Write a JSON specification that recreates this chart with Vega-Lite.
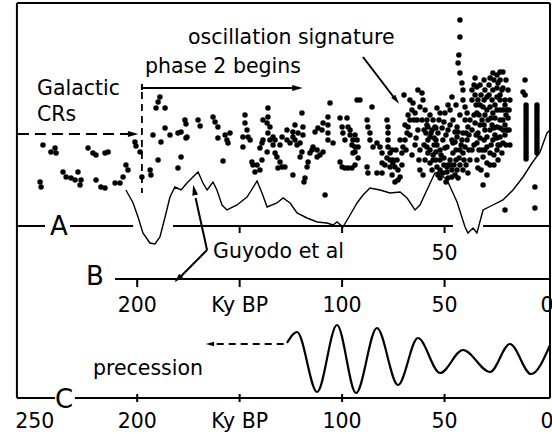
{
  "$schema": "https://vega.github.io/schema/vega-lite/v6.json",
  "width": 552,
  "height": 434,
  "padding": 0,
  "autosize": {"type": "none"},
  "background": "white",
  "config": {"view": {"stroke": null}, "text": {"font": "DejaVu Sans", "color": "black"}},
  "datasets": {
    "solid": [
      {"k": 258.7, "k2": -1.46, "y": 3, "y2": 3},
      {"k": 258.7, "k2": 258.7, "y": 3, "y2": 398},
      {"k": -1.46, "k2": -1.46, "y": 3, "y2": 398},
      {"k": 258.7, "k2": 245.0, "y": 226, "y2": 226},
      {"k": 232.8, "k2": 202.0, "y": 226, "y2": 226},
      {"k": 182.5, "k2": 45.9, "y": 226, "y2": 226},
      {"k": 31.2, "k2": -1.46, "y": 226, "y2": 226},
      {"k": 210.8, "k2": -1.46, "y": 279, "y2": 279},
      {"k": 258.7, "k2": 240.1, "y": 398, "y2": 398},
      {"k": 230.4, "k2": -1.46, "y": 398, "y2": 398},
      {"k": 150, "k2": 150, "y": 226, "y2": 233},
      {"k": 100, "k2": 100, "y": 226, "y2": 233},
      {"k": 50, "k2": 50, "y": 226, "y2": 233},
      {"k": 200, "k2": 200, "y": 279, "y2": 287},
      {"k": 150, "k2": 150, "y": 279, "y2": 287},
      {"k": 100, "k2": 100, "y": 279, "y2": 287},
      {"k": 50, "k2": 50, "y": 279, "y2": 287},
      {"k": 200, "k2": 200, "y": 394, "y2": 402},
      {"k": 150, "k2": 150, "y": 394, "y2": 402},
      {"k": 100, "k2": 100, "y": 394, "y2": 402},
      {"k": 50, "k2": 50, "y": 394, "y2": 402},
      {"k": 197.7, "k2": 123.0, "y": 88, "y2": 88},
      {"k": 197.7, "k2": 197.7, "y": 84, "y2": 90},
      {"k": 89.8, "k2": 74.5, "y": 57, "y2": 98},
      {"k": 165.9, "k2": 171.5, "y": 250, "y2": 198},
      {"k": 165.9, "k2": 179.0, "y": 250, "y2": 277}
    ],
    "dashed": [
      {"k": 197.7, "k2": 197.7, "y": 92, "y2": 193},
      {"k": 128.5, "k2": 162.0, "y": 344, "y2": 344}
    ],
    "dashdot": [
      {"k": 258.2, "k2": 203.5, "y": 134, "y2": 134}
    ],
    "headRight": [{"k": 121.8, "y": 88}, {"k": 202.0, "y": 134}],
    "headLeft": [{"k": 164.5, "y": 344}],
    "headOsc": [{"k": 73.6, "y": 100}],
    "headUp": [{"k": 172.2, "y": 190}],
    "headDown": [{"k": 180.2, "y": 279}],
    "guyodo": [
      {"k": 205.5, "y": 190}, {"k": 202.0, "y": 203}, {"k": 199.6, "y": 217}, {"k": 197.2, "y": 233},
      {"k": 193.8, "y": 243}, {"k": 191.3, "y": 244}, {"k": 188.9, "y": 237}, {"k": 186.4, "y": 217},
      {"k": 184.0, "y": 197}, {"k": 181.6, "y": 187}, {"k": 178.6, "y": 190}, {"k": 175.7, "y": 183},
      {"k": 172.8, "y": 177}, {"k": 170.3, "y": 172}, {"k": 167.9, "y": 183}, {"k": 165.9, "y": 190},
      {"k": 163.0, "y": 182}, {"k": 161.1, "y": 190}, {"k": 158.6, "y": 205}, {"k": 156.2, "y": 210},
      {"k": 151.3, "y": 205}, {"k": 146.4, "y": 197}, {"k": 141.5, "y": 181}, {"k": 139.1, "y": 193},
      {"k": 136.6, "y": 207}, {"k": 131.8, "y": 203}, {"k": 128.8, "y": 198}, {"k": 125.4, "y": 203},
      {"k": 122.0, "y": 213}, {"k": 117.1, "y": 218}, {"k": 112.2, "y": 222}, {"k": 107.4, "y": 223},
      {"k": 104.4, "y": 225}, {"k": 102.5, "y": 222}, {"k": 99.6, "y": 227}, {"k": 96.1, "y": 215},
      {"k": 92.7, "y": 203}, {"k": 89.8, "y": 195}, {"k": 86.4, "y": 188}, {"k": 81.5, "y": 190},
      {"k": 76.6, "y": 193}, {"k": 71.7, "y": 192}, {"k": 68.3, "y": 198}, {"k": 64.4, "y": 210},
      {"k": 62.0, "y": 205}, {"k": 58.6, "y": 190}, {"k": 54.7, "y": 173}, {"k": 53.2, "y": 172},
      {"k": 48.8, "y": 180}, {"k": 43.9, "y": 202}, {"k": 40.0, "y": 227}, {"k": 38.6, "y": 233},
      {"k": 36.1, "y": 228}, {"k": 34.2, "y": 233}, {"k": 31.2, "y": 210}, {"k": 26.4, "y": 205},
      {"k": 21.5, "y": 200}, {"k": 16.6, "y": 190}, {"k": 11.7, "y": 177}, {"k": 7.3, "y": 163},
      {"k": 3.4, "y": 152}, {"k": 0.0, "y": 133}, {"k": -1.5, "y": 130}
    ],
    "precession": [
      {"k": 126.9, "y": 343}, {"k": 122.0, "y": 332}, {"k": 112.2, "y": 392}, {"k": 102.5, "y": 325},
      {"k": 93.2, "y": 393}, {"k": 83.0, "y": 328}, {"k": 72.7, "y": 385}, {"k": 63.0, "y": 338},
      {"k": 52.2, "y": 373}, {"k": 41.0, "y": 350}, {"k": 27.8, "y": 372}, {"k": 18.1, "y": 344},
      {"k": 7.8, "y": 374}, {"k": -1.5, "y": 345}
    ],
    "dots": [
      {"k":246.0,"y":145},{"k":242.1,"y":152},{"k":239.6,"y":153},{"k":240.1,"y":148},{"k":224.0,"y":148},{"k":221.6,"y":153},{"k":220.1,"y":155},{"k":215.7,"y":153},{"k":214.2,"y":152},{"k":247.4,"y":182},{"k":246.9,"y":187},{"k":236.2,"y":172},{"k":234.7,"y":177},{"k":232.3,"y":178},{"k":230.3,"y":180},{"k":228.9,"y":172},{"k":227.4,"y":180},{"k":227.9,"y":185},{"k":220.1,"y":180},{"k":217.7,"y":187},{"k":215.7,"y":188},{"k":210.8,"y":183},{"k":208.4,"y":183},{"k":206.9,"y":177},{"k":205.5,"y":165},{"k":204.5,"y":170},{"k":201.1,"y":142},{"k":200.6,"y":146},{"k":198.6,"y":152},{"k":197.7,"y":177},{"k":193.7,"y":170},{"k":193.3,"y":175},{"k":192.3,"y":135},{"k":189.8,"y":160},{"k":188.9,"y":97},{"k":189.8,"y":102},{"k":190.8,"y":108},{"k":186.4,"y":108},{"k":188.4,"y":142},{"k":186.4,"y":128},{"k":184.0,"y":135},{"k":180.1,"y":133},{"k":178.6,"y":132},{"k":176.7,"y":120},{"k":176.2,"y":124},{"k":178.6,"y":157},{"k":180.1,"y":168},{"k":176.2,"y":138},{"k":175.7,"y":137},
      {"k":170.3,"y":120},{"k":169.3,"y":126},{"k":163.0,"y":117},{"k":162.0,"y":122},{"k":160.6,"y":127},{"k":160.6,"y":138},{"k":157.1,"y":135},{"k":156.2,"y":140},{"k":154.7,"y":133},{"k":155.7,"y":143},{"k":158.1,"y":161},{"k":147.4,"y":115},{"k":147.4,"y":123},{"k":146.4,"y":130},{"k":148.4,"y":137},{"k":145.9,"y":137},{"k":144.9,"y":140},{"k":148.4,"y":147},{"k":144.0,"y":162},{"k":143.5,"y":165},{"k":142.5,"y":172},{"k":141.5,"y":165},{"k":140.1,"y":170},{"k":139.1,"y":160},{"k":140.1,"y":148},{"k":139.1,"y":143},{"k":138.6,"y":140},{"k":138.6,"y":120},{"k":136.6,"y":123},{"k":136.2,"y":108},{"k":136.2,"y":117},{"k":135.2,"y":127},{"k":136.2,"y":133},{"k":135.2,"y":140},{"k":133.7,"y":137},{"k":132.7,"y":140},{"k":136.6,"y":152},{"k":132.7,"y":153},{"k":131.8,"y":157},{"k":130.3,"y":162},{"k":129.3,"y":167},{"k":131.3,"y":168},{"k":127.9,"y":167},{"k":133.7,"y":145},{"k":130.3,"y":145},{"k":129.3,"y":137},{"k":126.9,"y":130},{"k":126.9,"y":140},{"k":125.4,"y":143},{"k":124.0,"y":137},{"k":123.0,"y":140},{"k":122.0,"y":145},{"k":124.0,"y":132},{"k":121.5,"y":133},{"k":123.0,"y":125},{"k":119.6,"y":113},{"k":119.1,"y":127},{"k":119.1,"y":135},{"k":120.5,"y":143},{"k":119.6,"y":152},{"k":120.5,"y":157},{"k":124.0,"y":175},{"k":118.1,"y":178},{"k":118.6,"y":182},{"k":117.1,"y":167},{"k":116.6,"y":162},{"k":115.7,"y":153},{"k":114.7,"y":150},{"k":114.2,"y":147},{"k":112.2,"y":150},{"k":112.2,"y":157},{"k":110.8,"y":155},{"k":109.3,"y":152},{"k":113.2,"y":132},{"k":111.8,"y":128},{"k":109.8,"y":130},{"k":109.3,"y":123},{"k":106.9,"y":125},{"k":106.9,"y":133},{"k":106.9,"y":140},{"k":105.9,"y":103},{"k":106.9,"y":117},{"k":104.4,"y":143},{"k":101.0,"y":118},{"k":100.0,"y":127},{"k":99.6,"y":133},{"k":98.6,"y":140},{"k":97.6,"y":118},{"k":97.1,"y":127},{"k":96.1,"y":135},{"k":94.7,"y":140},{"k":93.7,"y":147},{"k":92.7,"y":100},{"k":101.0,"y":162},{"k":100.0,"y":167},{"k":98.6,"y":168},{"k":97.1,"y":168},{"k":95.2,"y":168},{"k":108.3,"y":195},{"k":93.7,"y":152},
      {"k":96.1,"y":130},{"k":93.7,"y":135},{"k":92.7,"y":140},{"k":95.2,"y":145},{"k":92.2,"y":147},{"k":94.7,"y":153},{"k":92.2,"y":158},{"k":91.3,"y":100},{"k":93.7,"y":165},{"k":87.8,"y":120},{"k":87.4,"y":127},{"k":86.4,"y":133},{"k":86.4,"y":140},{"k":85.4,"y":107},{"k":84.9,"y":147},{"k":83.0,"y":143},{"k":81.5,"y":147},{"k":80.5,"y":153},{"k":80.5,"y":163},{"k":87.8,"y":167},{"k":87.4,"y":173},{"k":83.0,"y":173},{"k":80.5,"y":173},{"k":78.1,"y":120},{"k":77.6,"y":127},{"k":77.6,"y":133},{"k":77.6,"y":140},{"k":77.6,"y":147},{"k":76.6,"y":153},{"k":76.6,"y":160},{"k":76.6,"y":167},{"k":75.2,"y":163},{"k":73.2,"y":160},{"k":74.2,"y":167},{"k":72.7,"y":170},{"k":71.7,"y":177},{"k":72.7,"y":180},{"k":70.8,"y":153},{"k":70.3,"y":147},{"k":69.3,"y":140},{"k":68.3,"y":133},{"k":67.8,"y":127},{"k":66.9,"y":120},{"k":65.9,"y":110},{"k":65.4,"y":103},{"k":64.4,"y":113},{"k":63.4,"y":120},{"k":63.0,"y":90},{"k":61.0,"y":93},{"k":60.5,"y":100},{"k":62.0,"y":107},{"k":59.5,"y":110},{"k":58.6,"y":120},{"k":58.1,"y":127},{"k":57.1,"y":137},{"k":58.6,"y":147},{"k":58.1,"y":153},{"k":57.1,"y":163},{"k":55.6,"y":160},{"k":53.7,"y":167},{"k":52.2,"y":170},{"k":50.8,"y":173},{"k":48.8,"y":167},{"k":47.3,"y":160},{"k":45.9,"y":153},{"k":48.8,"y":147},{"k":50.8,"y":140},{"k":53.2,"y":133},{"k":54.7,"y":127},{"k":55.6,"y":120},{"k":52.2,"y":113},{"k":49.8,"y":113},{"k":47.3,"y":110},{"k":45.9,"y":120},{"k":46.4,"y":97},{"k":43.9,"y":127},{"k":43.9,"y":137},{"k":45.9,"y":143},{"k":43.4,"y":63},{"k":42.5,"y":73},{"k":41.5,"y":83},{"k":41.0,"y":90},{"k":41.0,"y":100},{"k":40.0,"y":107},{"k":39.0,"y":113},{"k":40.0,"y":120},{"k":38.6,"y":127},{"k":41.0,"y":133},{"k":39.0,"y":140},{"k":40.0,"y":147},{"k":41.0,"y":153},{"k":38.6,"y":173},{"k":35.1,"y":78},{"k":34.2,"y":87},{"k":33.7,"y":100},{"k":34.2,"y":113},{"k":35.1,"y":123},{"k":33.7,"y":133},{"k":34.2,"y":143},{"k":31.7,"y":150},{"k":34.2,"y":160},{"k":31.2,"y":157},{"k":29.3,"y":163},{"k":31.7,"y":120},{"k":31.2,"y":107},{"k":29.3,"y":97},{"k":27.8,"y":78},{"k":26.4,"y":73},{"k":24.4,"y":75},{"k":22.9,"y":72},{"k":21.5,"y":72},{"k":23.9,"y":83},{"k":26.4,"y":90},{"k":22.0,"y":90},{"k":24.4,"y":97},{"k":27.8,"y":107},{"k":26.4,"y":113},{"k":22.9,"y":110},{"k":20.5,"y":100},{"k":19.5,"y":110},{"k":21.5,"y":120},{"k":24.4,"y":127},{"k":27.8,"y":130},{"k":29.3,"y":137},{"k":26.4,"y":140},{"k":22.9,"y":137},{"k":19.5,"y":130},{"k":21.5,"y":143},{"k":24.4,"y":150},{"k":27.8,"y":153},{"k":22.0,"y":153},{"k":29.3,"y":147},{"k":31.2,"y":185},{"k":10.7,"y":80},{"k":11.7,"y":92},{"k":10.7,"y":95},
      {"k":10.2,"y":105},{"k":10.2,"y":108},{"k":10.2,"y":111},{"k":10.2,"y":114},{"k":10.2,"y":117},{"k":10.2,"y":120},{"k":10.2,"y":123},{"k":10.2,"y":126},{"k":10.2,"y":129},{"k":10.2,"y":132},{"k":10.2,"y":135},{"k":10.2,"y":138},{"k":10.2,"y":141},{"k":10.2,"y":144},{"k":10.2,"y":147},{"k":10.2,"y":150},{"k":10.2,"y":153},{"k":10.2,"y":156},{"k":10.2,"y":159},
      {"k":4.9,"y":105},{"k":4.9,"y":108},{"k":4.9,"y":111},{"k":4.9,"y":114},{"k":4.9,"y":117},{"k":4.9,"y":120},{"k":4.9,"y":123},{"k":4.9,"y":126},{"k":4.9,"y":129},{"k":4.9,"y":132},{"k":4.9,"y":135},{"k":4.9,"y":138},{"k":4.9,"y":141},{"k":4.9,"y":144},{"k":4.9,"y":147},{"k":4.9,"y":150},{"k":4.9,"y":153},
      {"k":5.9,"y":187},{"k":5.9,"y":208},{"k":20.5,"y":210},{"k":42.5,"y":20},{"k":42.5,"y":37},{"k":43.0,"y":55},
      {"k":56.1,"y":130},{"k":54.2,"y":140},{"k":52.2,"y":150},{"k":50.3,"y":158},{"k":48.3,"y":165},{"k":46.4,"y":170},{"k":44.4,"y":160},{"k":42.5,"y":150},{"k":41.5,"y":140},{"k":43.4,"y":132},{"k":47.3,"y":125},{"k":49.3,"y":135},{"k":51.2,"y":128},{"k":54.2,"y":152},{"k":52.2,"y":160},{"k":49.8,"y":148},{"k":44.9,"y":142},{"k":42.5,"y":165},{"k":44.9,"y":175},{"k":48.3,"y":178},{"k":53.2,"y":175},{"k":56.1,"y":170},{"k":58.1,"y":140},{"k":59.1,"y":133},{"k":55.1,"y":145},
      {"k":36.6,"y":90},{"k":36.6,"y":100},{"k":36.6,"y":130},{"k":36.6,"y":150},{"k":35.1,"y":95},{"k":32.7,"y":85},{"k":32.7,"y":105},{"k":32.7,"y":125},{"k":32.7,"y":138},{"k":30.3,"y":90},{"k":30.3,"y":115},{"k":30.3,"y":130},{"k":30.3,"y":150},{"k":28.8,"y":120},{"k":26.8,"y":100},{"k":26.8,"y":125},{"k":25.4,"y":105},{"k":25.4,"y":118},{"k":25.4,"y":135},{"k":23.9,"y":145},{"k":22.9,"y":95},{"k":22.9,"y":120},{"k":22.9,"y":128},{"k":20.5,"y":105},{"k":20.5,"y":125},{"k":20.5,"y":135},{"k":19.0,"y":118},{"k":19.0,"y":90},{"k":18.1,"y":100},{"k":18.1,"y":145},{"k":23.9,"y":160},{"k":27.8,"y":165},{"k":33.7,"y":168},{"k":37.6,"y":160},
      {"k":69.3,"y":125},{"k":66.9,"y":135},{"k":64.4,"y":145},{"k":63.0,"y":130},{"k":62.0,"y":150},{"k":65.9,"y":155},{"k":61.0,"y":120},{"k":67.8,"y":115},{"k":70.8,"y":165},{"k":59.5,"y":160},{"k":62.0,"y":170},
      {"k":79.1,"y":165},{"k":75.6,"y":175},{"k":74.2,"y":182},{"k":78.1,"y":158},{"k":75.6,"y":150},
      {"k":58.6,"y":125},{"k":56.6,"y":133},{"k":55.1,"y":138},{"k":53.7,"y":145},{"k":51.7,"y":155},{"k":50.3,"y":165},{"k":48.8,"y":172},{"k":46.9,"y":165},{"k":45.4,"y":165},{"k":43.9,"y":170},{"k":42.9,"y":158},{"k":41.9,"y":145},{"k":40.5,"y":160},{"k":39.5,"y":165},{"k":38.1,"y":150},{"k":38.1,"y":135},{"k":37.6,"y":120},{"k":39.5,"y":133},{"k":44.4,"y":150},{"k":46.4,"y":140},{"k":48.3,"y":130},{"k":50.3,"y":122},{"k":52.7,"y":120},{"k":54.2,"y":128},{"k":57.1,"y":150},{"k":55.6,"y":155},{"k":54.2,"y":160},{"k":52.2,"y":178},{"k":49.3,"y":182},{"k":46.4,"y":177},{"k":43.4,"y":178},{"k":41.0,"y":170},{"k":60.0,"y":145},{"k":60.0,"y":130},{"k":57.1,"y":115},{"k":53.7,"y":108},{"k":48.3,"y":105},{"k":44.4,"y":105},{"k":42.5,"y":115},{"k":44.9,"y":132},
      {"k":35.6,"y":85},{"k":34.6,"y":105},{"k":35.6,"y":115},{"k":34.6,"y":135},{"k":35.6,"y":145},{"k":33.2,"y":150},{"k":32.2,"y":95},{"k":30.7,"y":80},{"k":30.7,"y":100},{"k":30.7,"y":125},{"k":30.7,"y":140},{"k":29.3,"y":110},{"k":28.3,"y":85},{"k":28.3,"y":95},{"k":27.3,"y":118},{"k":27.3,"y":145},{"k":25.9,"y":80},{"k":25.9,"y":128},{"k":25.9,"y":155},{"k":24.4,"y":88},{"k":24.4,"y":110},{"k":24.4,"y":138},{"k":22.9,"y":80},{"k":22.9,"y":100},{"k":22.9,"y":145},{"k":21.5,"y":88},{"k":21.5,"y":110},{"k":21.5,"y":130},{"k":20.0,"y":80},{"k":20.0,"y":115},{"k":20.0,"y":145},{"k":18.5,"y":110},{"k":18.5,"y":130},{"k":33.2,"y":115},{"k":32.2,"y":170},{"k":29.3,"y":175},{"k":25.9,"y":165},
      {"k":69.8,"y":95},{"k":66.9,"y":100},{"k":64.9,"y":120},{"k":63.9,"y":138},{"k":62.5,"y":160},{"k":60.5,"y":175},{"k":68.8,"y":150},{"k":71.7,"y":140},{"k":73.7,"y":150},{"k":75.2,"y":160}
    ],
    "annot": [
      {"k": 175.2, "y": 44, "t": "oscillation signature"},
      {"k": 196.2, "y": 73, "t": "phase 2 begins"},
      {"k": 248.9, "y": 95, "t": "Galactic"},
      {"k": 248.9, "y": 121, "t": "CRs"},
      {"k": 163.0, "y": 258, "t": "Guyodo et al"},
      {"k": 221.6, "y": 375, "t": "precession"}
    ],
    "ticklabels": [
      {"k": 50, "y": 260, "t": "50"},
      {"k": 200, "y": 312, "t": "200"},
      {"k": 150, "y": 312, "t": "Ky BP"},
      {"k": 100, "y": 312, "t": "100"},
      {"k": 50, "y": 312, "t": "50"},
      {"k": 0, "y": 312, "t": "0"},
      {"k": 250, "y": 428, "t": "250"},
      {"k": 200, "y": 428, "t": "200"},
      {"k": 150, "y": 428, "t": "Ky BP"},
      {"k": 100, "y": 428, "t": "100"},
      {"k": 50, "y": 428, "t": "50"},
      {"k": 0, "y": 428, "t": "0"}
    ],
    "letters": [
      {"k": 238.2, "y": 235, "t": "A"},
      {"k": 220.6, "y": 285, "t": "B"},
      {"k": 235.7, "y": 408, "t": "C"}
    ]
  },
  "encoding": {
    "x": {"field": "k", "type": "quantitative", "axis": null,
          "scale": {"domain": [-2.44, 266.96], "reverse": true, "nice": false, "zero": false}},
    "y": {"field": "y", "type": "quantitative", "axis": null,
          "scale": {"domain": [0, 434], "reverse": true, "nice": false, "zero": false}}
  },
  "layer": [
    {"data": {"name": "solid"}, "mark": {"type": "rule", "color": "black", "strokeWidth": 2},
     "encoding": {"x2": {"field": "k2"}, "y2": {"field": "y2"}}},
    {"data": {"name": "dashed"}, "mark": {"type": "rule", "color": "black", "strokeWidth": 1.8, "strokeDash": [7, 5]},
     "encoding": {"x2": {"field": "k2"}, "y2": {"field": "y2"}}},
    {"data": {"name": "dashdot"}, "mark": {"type": "rule", "color": "black", "strokeWidth": 1.8, "strokeDash": [11, 6]},
     "encoding": {"x2": {"field": "k2"}, "y2": {"field": "y2"}}},
    {"data": {"name": "headRight"}, "mark": {"type": "point", "shape": "M0,-1L0.55,1L-0.55,1Z", "filled": true, "color": "black", "opacity": 1, "size": 110, "angle": 90}},
    {"data": {"name": "headLeft"}, "mark": {"type": "point", "shape": "M0,-1L0.55,1L-0.55,1Z", "filled": true, "color": "black", "opacity": 1, "size": 70, "angle": 270}},
    {"data": {"name": "headOsc"}, "mark": {"type": "point", "shape": "M0,-1L0.55,1L-0.55,1Z", "filled": true, "color": "black", "opacity": 1, "size": 90, "angle": 142}},
    {"data": {"name": "headUp"}, "mark": {"type": "point", "shape": "M0,-1L0.55,1L-0.55,1Z", "filled": true, "color": "black", "opacity": 1, "size": 110, "angle": 349}},
    {"data": {"name": "headDown"}, "mark": {"type": "point", "shape": "M0,-1L0.55,1L-0.55,1Z", "filled": true, "color": "black", "opacity": 1, "size": 90, "angle": 225}},
    {"data": {"name": "guyodo"}, "mark": {"type": "line", "color": "black", "strokeWidth": 1.4},
     "encoding": {"order": {"field": "k", "sort": "descending"}}},
    {"data": {"name": "precession"}, "mark": {"type": "line", "color": "black", "strokeWidth": 2.2, "interpolate": "monotone"},
     "encoding": {"order": {"field": "k", "sort": "descending"}}},
    {"data": {"name": "dots"}, "mark": {"type": "point", "shape": "circle", "filled": true, "color": "black", "opacity": 1, "size": 30}},
    {"data": {"name": "annot"}, "mark": {"type": "text", "fontSize": 20.5, "align": "left", "baseline": "alphabetic"},
     "encoding": {"text": {"field": "t"}}},
    {"data": {"name": "ticklabels"}, "mark": {"type": "text", "fontSize": 20.5, "align": "center", "baseline": "alphabetic"},
     "encoding": {"text": {"field": "t"}}},
    {"data": {"name": "letters"}, "mark": {"type": "text", "fontSize": 26, "align": "center", "baseline": "alphabetic"},
     "encoding": {"text": {"field": "t"}}}
  ]
}
